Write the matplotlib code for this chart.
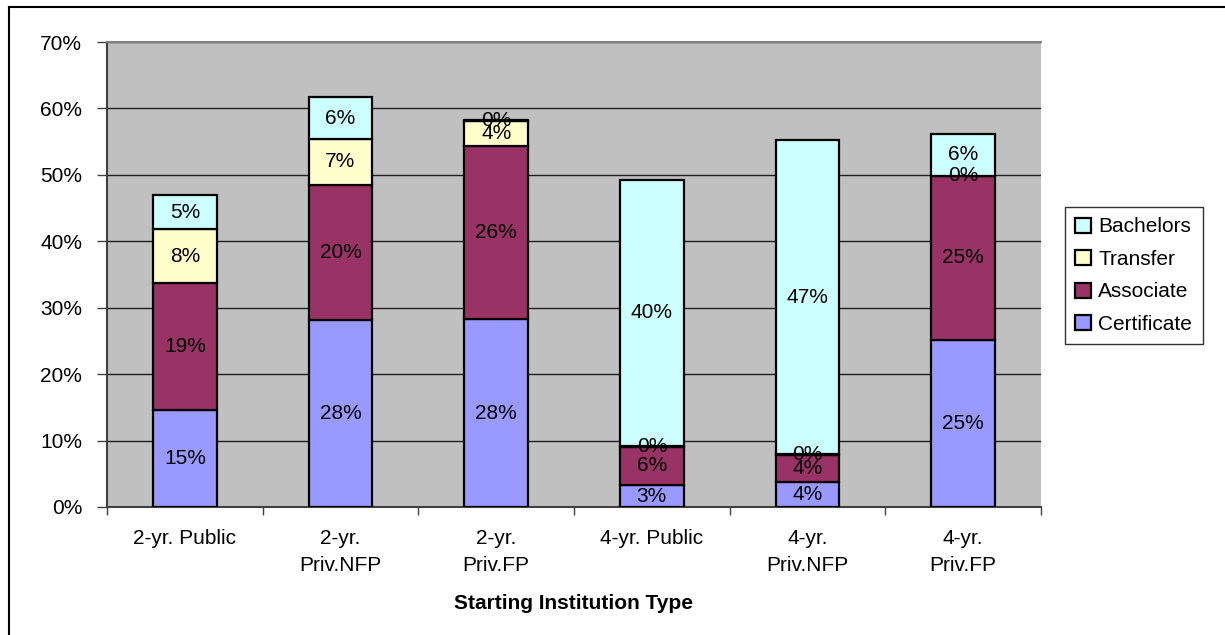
import numpy as np
import matplotlib
matplotlib.use("Agg")
import matplotlib.pyplot as plt
from matplotlib.lines import Line2D

plt.rcParams['font.family'] = ['Liberation Sans', 'DejaVu Sans']

categories = ['2-yr. Public', '2-yr.\nPriv.NFP', '2-yr.\nPriv.FP',
              '4-yr. Public', '4-yr.\nPriv.NFP', '4-yr.\nPriv.FP']
certificate = [14.6, 28.1, 28.3, 3.3, 3.8, 25.2]
associate = [19.1, 20.4, 26.1, 5.8, 4.1, 24.6]
transfer = [8.1, 6.9, 3.7, 0.1, 0.1, 0.1]
bachelors = [5.2, 6.3, 0.2, 40.1, 47.2, 6.2]
y_ticks = [0, 10, 20, 30, 40, 50, 60, 70]

series = [('Certificate', certificate, '#9999FF'),
          ('Associate', associate, '#993366'),
          ('Transfer', transfer, '#FFFFCC'),
          ('Bachelors', bachelors, '#CCFFFF')]

fig = plt.figure(figsize=(12.25, 6.35), dpi=100)
ax = fig.add_axes([107/1225, 1 - 507/635, (1041 - 107)/1225, (507 - 42)/635])
ax.set_facecolor('#C0C0C0')

x = np.arange(len(categories))
bottom = np.zeros(len(categories))
handles = []
for name, vals, col in series:
    vals = np.array(vals)
    bars = ax.bar(x, vals, 0.41, bottom=bottom, color=col,
                  edgecolor='black', linewidth=1.6, label=name, zorder=3)
    handles.append(bars)
    for xi, b, v in zip(x, bottom, vals):
        ax.text(xi, b + v / 2, f"{round(v):.0f}%", ha='center', va='center',
                fontsize=15, color='black', zorder=4)
    bottom += vals

ax.set_ylim(0, 70)
ax.set_yticks(y_ticks)
ax.set_yticklabels([f"{t}%" for t in y_ticks])
ax.yaxis.grid(True, color='#202020', linewidth=1.0, zorder=0)
ax.set_axisbelow(True)
ax.tick_params(axis='y', length=7, width=1, pad=11, labelsize=15, color='#404040')

ax.set_xlim(-0.5, len(categories) - 0.5)
ax.set_xticks(np.arange(-0.5, len(categories), 1.0))
ax.set_xticklabels([])
ax.set_xticks(x, minor=True)
ax.set_xticklabels(categories, minor=True)
for t in ax.get_xticklabels(minor=True):
    t.set_linespacing(1.5)
ax.tick_params(axis='x', which='major', length=6, width=1, color='#404040')
ax.tick_params(axis='x', which='minor', length=0, pad=16, labelsize=15)

ax.set_xlabel('Starting Institution Type', fontsize=15, fontweight='bold', labelpad=14)

for s in ['left', 'bottom']:
    ax.spines[s].set_color('#404040')
    ax.spines[s].set_linewidth(1.5)
ax.spines['top'].set_color('#808080')
ax.spines['top'].set_linewidth(1.5)
ax.spines['right'].set_visible(False)

leg = fig.legend(handles[::-1], [s[0] for s in series][::-1],
                 loc='upper left', bbox_to_anchor=(1065/1225, 1 - 207/635),
                 fontsize=15, frameon=True, fancybox=False, edgecolor='black',
                 handlelength=0.75, handleheight=0.75, handletextpad=0.35,
                 labelspacing=0.65, borderpad=0.5, borderaxespad=0)
leg.get_frame().set_linewidth(1.0)

# outer chart border
fig.add_artist(Line2D([9/1225, 9/1225], [0, 1 - 7/635], color='black', linewidth=1.5))
fig.add_artist(Line2D([9/1225, 1], [1 - 7/635, 1 - 7/635], color='black', linewidth=1.5))

fig.savefig('out.png', dpi=100)
